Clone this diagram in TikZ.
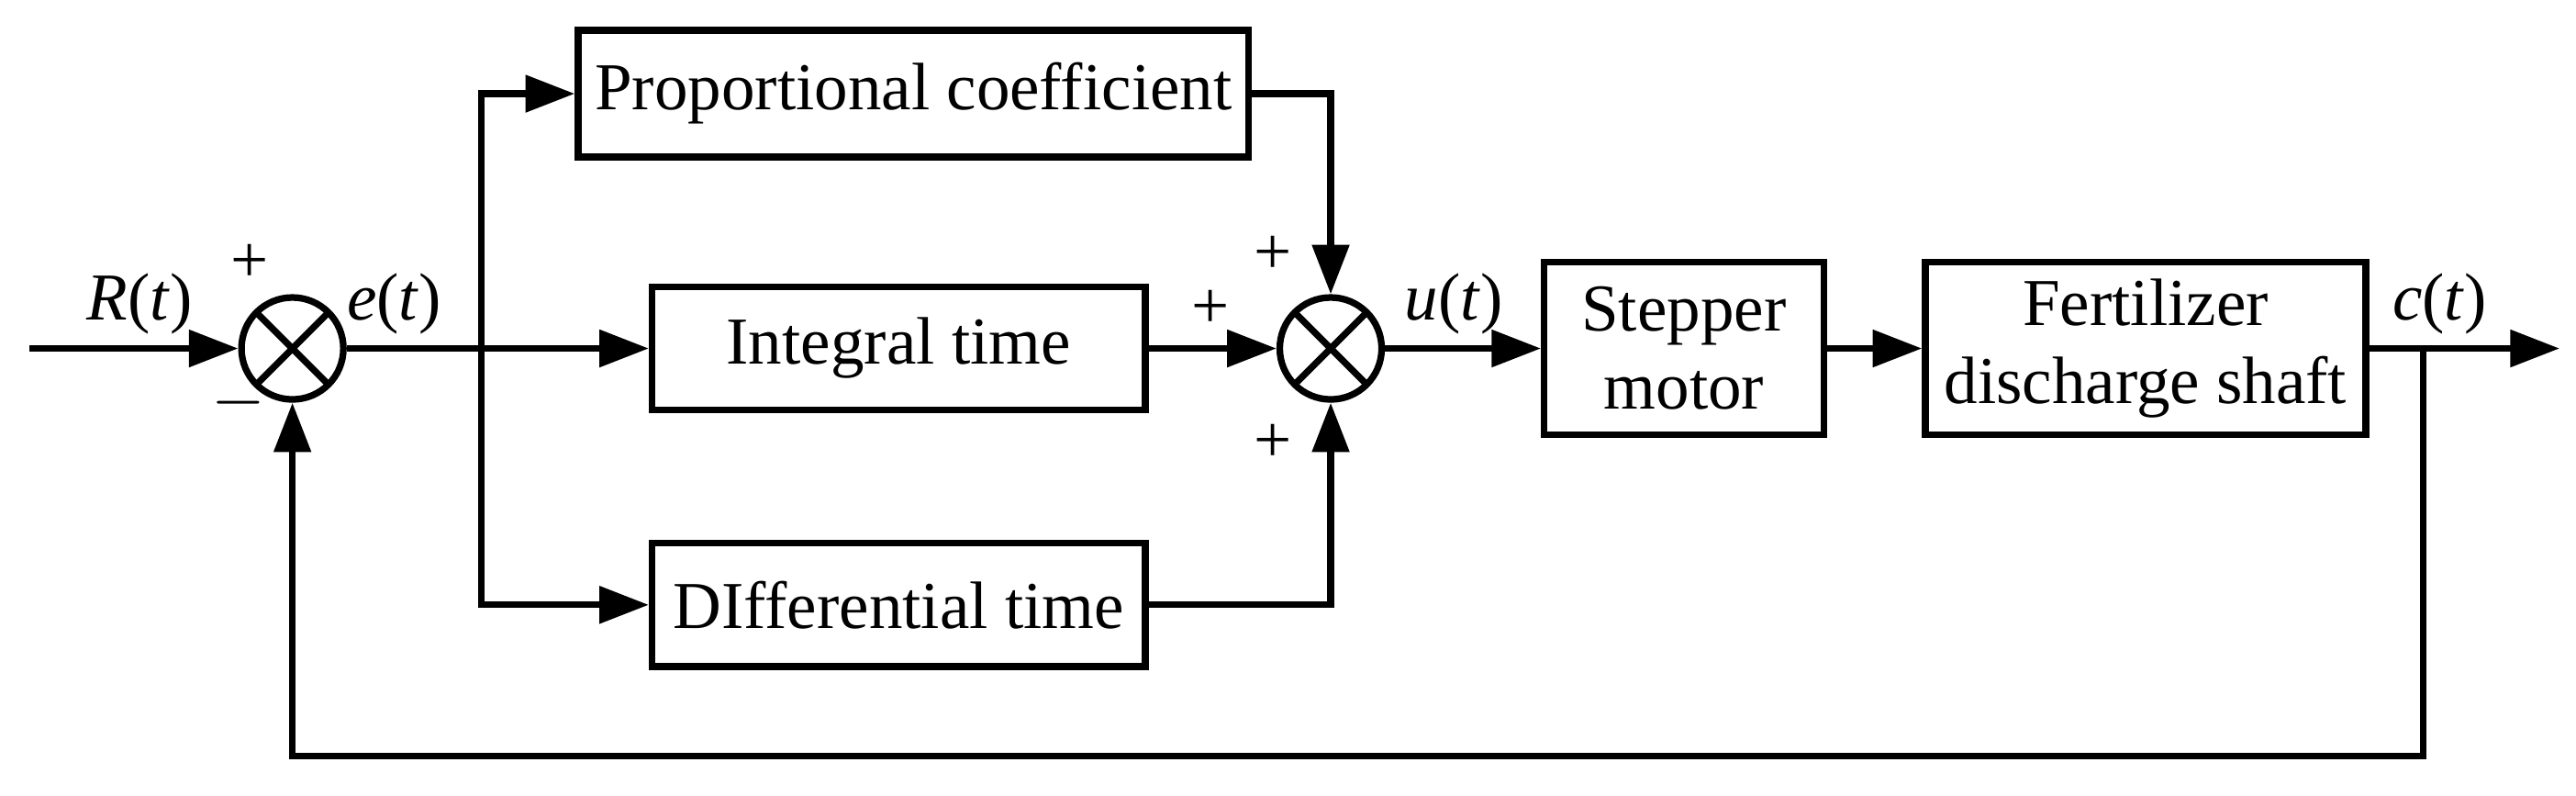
\documentclass[tikz,border=0pt]{standalone}
\usepackage{fontspec}
\setmainfont{Liberation Serif}
\usetikzlibrary{arrows.meta}
\begin{document}
\begin{tikzpicture}[x=0.01cm,y=-0.01cm,
  every node/.style={font=\fontsize{11.6}{13.5}\selectfont},
  ln/.style={line width=1.15pt},
  ar/.style={ln,-{Triangle[length=0.3cm,width=0.22cm]}},
  blk/.style={draw,ln,rectangle,inner sep=0pt,align=center},
  sum/.style={draw,ln,circle,minimum size=0.62cm,inner sep=0pt,
    path picture={\draw[ln] (path picture bounding box.north west)--(path picture bounding box.south east)
      (path picture bounding box.north east)--(path picture bounding box.south west);}},
  lb/.style={inner sep=1pt}]
\useasboundingbox (0,0) rectangle (1568,484);
\coordinate (in) at (18,212);
\node[sum] (s1) at (178,212) {};
\node[sum] (s2) at (810,212) {};
\node[blk,minimum width=4.08cm,minimum height=0.77cm] (P) at (556,57) {Proportional coefficient};
\node[blk,minimum width=3cm,minimum height=0.75cm] (I) at (547,212) {Integral time};
\node[blk,minimum width=3cm,minimum height=0.75cm] (D) at (547,368) {DIfferential time};
\node[blk,minimum width=1.7cm,minimum height=1.05cm] (S) at (1025,212) {Stepper\\motor};
\node[blk,minimum width=2.68cm,minimum height=1.05cm] (F) at (1306,212) {Fertilizer\\discharge shaft};
\coordinate (out) at (1558,212);
\coordinate (br) at (293,212);
\coordinate (fb) at (1475,212);
\draw[ar] (in) -- (s1);
\draw[ln] (s1) -- (br);
\draw[ar] (br) -- (I);
\draw[ar] (br) |- (P);
\draw[ar] (br) |- (D);
\draw[ar] (P.east) -| (s2.north);
\draw[ar] (D.east) -| (s2.south);
\draw[ar] (I) -- (s2);
\draw[ar] (s2) -- (S);
\draw[ar] (S) -- (F);
\draw[ar] (F) -- (out);
\draw[ar] (fb) -- (1475,460) -| (s1.south);
\node[lb] at (85,185) {\textit{R}(\textit{t})};
\node[lb] at (152,160) {+};
\node[lb] at (145,245) {$-$};
\node[lb] at (240,185) {\textit{e}(\textit{t})};
\node[lb] at (775,155) {+};
\node[lb] at (737,188) {+};
\node[lb] at (775,270) {+};
\node[lb] at (885,185) {\textit{u}(\textit{t})};
\node[lb] at (1485,185) {\textit{c}(\textit{t})};
\end{tikzpicture}
\end{document}
